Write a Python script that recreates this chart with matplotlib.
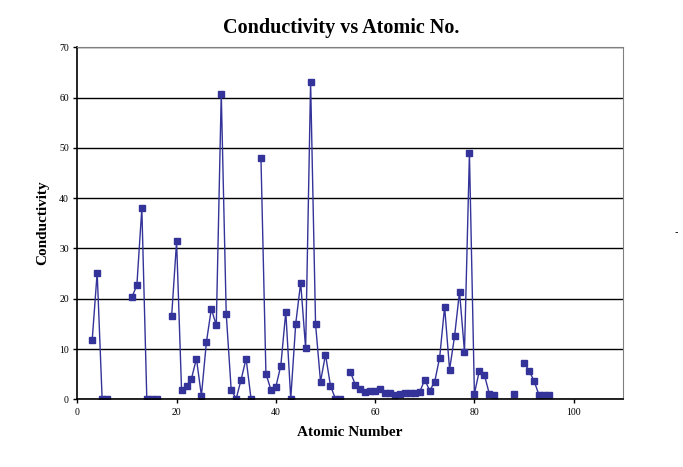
import numpy as np
import matplotlib.pyplot as plt

nan = np.nan

# atomic numbers 3..95, conductivity (nan = no data)
atomic_no = np.arange(3, 96)
conductivity = [
    11.8, 25.2, 0.1, 0.1, nan, nan, nan, nan,           # 3-10
    20.3, 22.7, 38.0, 0.1, 0.1, 0.1, nan, nan,          # 11-18
    16.5, 31.4, 1.8, 2.7, 4.1, 8.1, 0.7, 11.3,          # 19-26
    18.0, 14.7, 60.8, 17.0, 1.9, 0.1, 3.9, 8.1,         # 27-34
    0.1, nan, 47.9, 5.1, 1.9, 2.5, 6.7, 17.4,           # 35-42
    0.1, 15.0, 23.2, 10.1, 63.1, 14.9, 3.5, 8.9,        # 43-50
    2.7, 0.1, 0.1, nan, 5.5, 2.9, 2.1, 1.5,             # 51-58
    1.7, 1.7, 2.1, 1.3, 1.3, 0.9, 1.1, 1.3,             # 59-66
    1.3, 1.3, 1.5, 3.9, 1.7, 3.5, 8.3, 18.4,            # 67-74
    5.9, 12.5, 21.4, 9.5, 48.9, 1.1, 5.7, 4.9,          # 75-82
    1.1, 0.9, nan, nan, nan, 1.1, nan, 7.3,             # 83-90
    5.7, 3.7, 0.9, 0.9, 0.9,                            # 91-95
]

col = '#333399'

fig = plt.figure(figsize=(6.83, 4.67), dpi=100)
ax = fig.add_axes([0.1132, 0.145, 0.7994, 0.7537])

ax.plot(atomic_no, conductivity, color=col, lw=1, marker='s', ms=5,
        mec=col, mfc=col)

ax.set_xlim(0, 110)
ax.set_ylim(0, 70)
ax.set_xticks(range(0, 101, 20))
ax.set_yticks(range(0, 71, 10))
ax.yaxis.grid(True, color='black', lw=1.0)
ax.set_axisbelow(True)

for s in ['top', 'right']:
    ax.spines[s].set_color('#808080')
for s in ['left', 'bottom']:
    ax.spines[s].set_linewidth(1.2)
ax.tick_params(direction='out', length=3, width=1, labelsize=7, pad=3)
for lab in ax.get_xticklabels() + ax.get_yticklabels():
    lab.set_family('Liberation Serif')

fig.text(341 / 683, 1 - 28 / 467, 'Conductivity vs Atomic No.', ha='center',
         va='center', family='Liberation Serif', weight='bold', fontsize=14.5)
fig.text(350 / 683, 1 - 433 / 467, 'Atomic Number', ha='center', va='center',
         family='Liberation Serif', weight='bold', fontsize=11)
fig.text(43 / 683, 1 - 223 / 467, 'Conductivity', ha='center', va='center',
         rotation=90, family='Liberation Serif', weight='bold', fontsize=11)
fig.text(676 / 683, 1 - 232 / 467, '-', ha='center', va='center', fontsize=7)

fig.savefig('out.png', dpi=100)
